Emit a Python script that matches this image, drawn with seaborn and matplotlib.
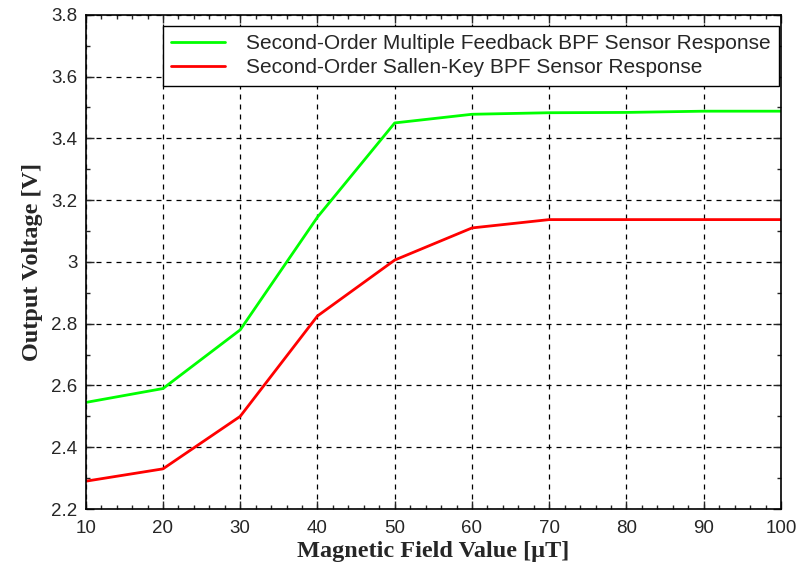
import numpy as np
import pandas as pd
import matplotlib
matplotlib.use("Agg")
import matplotlib.pyplot as plt
from matplotlib.ticker import MultipleLocator
import seaborn as sns

# values
field_ut = [10, 20, 30, 40, 50, 60, 70, 80, 90, 100]
mfb_volts = [2.545, 2.59, 2.78, 3.145, 3.45, 3.478, 3.483, 3.484, 3.488, 3.488]
sk_volts = [2.29, 2.33, 2.50, 2.825, 3.006, 3.11, 3.137, 3.137, 3.137, 3.137]
series_names = ["Second-Order Multiple Feedback BPF Sensor Response",
                "Second-Order Sallen-Key BPF Sensor Response"]

df = pd.concat([
    pd.DataFrame({"field": field_ut, "volts": mfb_volts, "series": series_names[0]}),
    pd.DataFrame({"field": field_ut, "volts": sk_volts, "series": series_names[1]}),
])

sns.set_style("ticks")
plt.rcParams["font.family"] = ["Liberation Sans", "DejaVu Sans"]

fig = plt.figure(figsize=(8.01, 5.70), dpi=100)
ax = fig.add_axes([0.107, 0.107, 0.868, 0.867])

sns.lineplot(data=df, x="field", y="volts", hue="series",
             palette=["#00ff00", "#ff0000"], linewidth=2, ax=ax)

ax.set_xlim(10, 100)
ax.set_ylim(2.2, 3.8)
ax.xaxis.set_major_locator(MultipleLocator(10))
ax.xaxis.set_minor_locator(MultipleLocator(2))
ax.yaxis.set_major_locator(MultipleLocator(0.2))
ax.yaxis.set_minor_locator(MultipleLocator(0.1))
ax.set_yticklabels([f"{v:g}" for v in ax.get_yticks()])

ax.tick_params(which="both", direction="in", top=True, right=True, labelsize=13.5, colors="#262626")
ax.tick_params(axis="x", which="major", pad=8)
ax.tick_params(axis="y", which="major", pad=6)
ax.tick_params(which="major", length=6, width=1)
ax.tick_params(which="minor", length=3, width=1)
for s in ax.spines.values():
    s.set_color("black")
    s.set_linewidth(1.2)

ax.grid(True, which="major", linestyle=(0, (4, 4)), color="black", linewidth=0.9)

lab_font = {"family": "Liberation Serif", "weight": "bold", "size": 17.5}
ax.set_xlabel("Magnetic Field Value [\u03bcT]", fontdict=lab_font, labelpad=3)
ax.set_ylabel("Output Voltage [V]", fontdict=lab_font, labelpad=6)

leg = ax.legend(loc="upper right", bbox_to_anchor=(0.997, 0.978), fontsize=15,
                frameon=True, fancybox=False, framealpha=1, edgecolor="black",
                handlelength=2.6, handletextpad=1.0, borderpad=0.4,
                labelspacing=0.25, borderaxespad=0)
leg.get_frame().set_linewidth(1.0)
for t in leg.get_texts():
    t.set_color("#262626")

fig.savefig("out.png", dpi=100)
